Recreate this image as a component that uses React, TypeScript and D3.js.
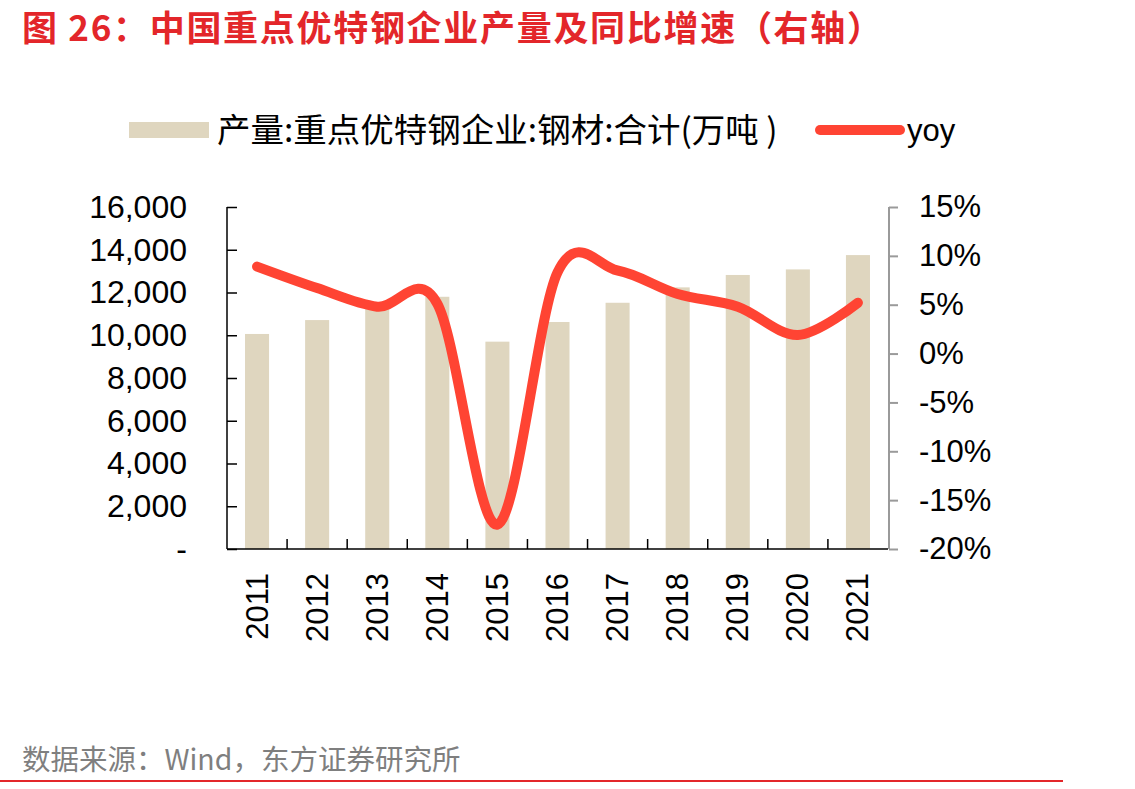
import React, { useEffect, useRef } from 'react';
import * as d3 from 'd3';

// 数据
const years = ['2011', '2012', '2013', '2014', '2015', '2016', '2017', '2018', '2019', '2020', '2021'];
const output = [10060, 10710, 11250, 11800, 9700, 10620, 11520, 12240, 12820, 13080, 13750];
const yoy = [8.9, 6.7, 4.8, 5.1, -17.5, 8.3, 8.5, 6.1, 4.8, 1.9, 5.2];
const leftTicks = [0, 2000, 4000, 6000, 8000, 10000, 12000, 14000, 16000];
const rightTicks = [-20, -15, -10, -5, 0, 5, 10, 15];

const LATIN = '"Liberation Sans", Arial, "Noto Sans CJK SC", sans-serif';
const CJK = '"Noto Sans CJK SC", "Liberation Sans", sans-serif';

const App = () => {
  const ref = useRef<SVGSVGElement | null>(null);

  useEffect(() => {
    if (!ref.current) return;
    const svg = d3.select(ref.current);
    svg.selectAll('*').remove();

    const left = 227, right = 888, top = 207, bottom = 549;

    const x = d3.scaleBand().domain(years).range([left, right]).paddingInner(0.6).paddingOuter(0.3);
    const yL = d3.scaleLinear().domain([0, 16000]).range([bottom, top]);
    const yR = d3.scaleLinear().domain([-20, 15]).range([bottom, top]);

    // title
    svg.append('text')
      .attr('x', 22).attr('y', 41)
      .attr('font-family', CJK).attr('font-weight', 700)
      .attr('font-size', 35).attr('fill', '#E3262A')
      .attr('textLength', 860).attr('lengthAdjust', 'spacing')
      .text('图 26：中国重点优特钢企业产量及同比增速（右轴）');

    // legend
    svg.append('rect').attr('x', 129).attr('y', 122).attr('width', 80).attr('height', 16).attr('fill', '#DFD6BF');
    svg.append('text')
      .attr('x', 217).attr('y', 142)
      .attr('font-family', CJK).attr('font-size', 33.5).attr('fill', '#000')
      .text('产量:重点优特钢企业:钢材:合计(万吨 )');
    svg.append('line')
      .attr('x1', 820).attr('x2', 900).attr('y1', 130).attr('y2', 130)
      .attr('stroke', '#FF4433').attr('stroke-width', 10).attr('stroke-linecap', 'round');
    svg.append('text')
      .attr('x', 907).attr('y', 141)
      .attr('font-family', LATIN).attr('font-size', 31).attr('fill', '#000')
      .text('yoy');

    // bars
    svg.append('g').selectAll('rect')
      .data(years)
      .enter().append('rect')
      .attr('x', d => x(d) as number)
      .attr('width', x.bandwidth())
      .attr('y', (d, i) => yL(output[i]))
      .attr('height', (d, i) => bottom - yL(output[i]))
      .attr('fill', '#DFD6BF');

    // left axis
    const gL = svg.append('g').attr('transform', `translate(${left},0)`)
      .call(d3.axisLeft(yL).tickValues(leftTicks).tickSize(-10).tickPadding(40)
        .tickFormat(d => (+d === 0 ? '-' : d3.format(',')(+d))));
    gL.select('.domain').attr('stroke', '#000').attr('stroke-width', 1.5)
      .attr('d', `M0,${top}V${bottom}`);
    gL.selectAll('.tick line').attr('stroke', '#000').attr('stroke-width', 1.5);
    gL.selectAll('.tick text').attr('font-family', LATIN).attr('font-size', 32).attr('fill', '#000');

    // right axis
    const gR = svg.append('g').attr('transform', `translate(${right + 1},0)`)
      .call(d3.axisRight(yR).tickValues(rightTicks).tickSize(9).tickPadding(21)
        .tickFormat(d => `${d}%`));
    gR.select('.domain').attr('stroke', '#9A9A9A').attr('stroke-width', 2)
      .attr('d', `M0,${top}V${bottom}`);
    gR.selectAll('.tick line').attr('stroke', '#9A9A9A').attr('stroke-width', 2);
    gR.selectAll('.tick text').attr('font-family', LATIN).attr('font-size', 31).attr('fill', '#000');

    // bottom axis with ticks between categories
    const gB = svg.append('g');
    gB.append('line').attr('x1', left).attr('x2', right).attr('y1', bottom).attr('y2', bottom)
      .attr('stroke', '#000').attr('stroke-width', 1.5);
    const step = x.step();
    gB.selectAll('line.sep')
      .data(years.slice(1))
      .enter().append('line')
      .attr('class', 'sep')
      .attr('x1', d => (x(d) as number) - step * 0.3)
      .attr('x2', d => (x(d) as number) - step * 0.3)
      .attr('y1', bottom).attr('y2', bottom - 10)
      .attr('stroke', '#000').attr('stroke-width', 1.5);
    gB.selectAll('text')
      .data(years)
      .enter().append('text')
      .attr('transform', d => `translate(${(x(d) as number) + x.bandwidth() / 2},573) rotate(-90)`)
      .attr('text-anchor', 'end')
      .attr('dominant-baseline', 'central')
      .attr('font-family', LATIN).attr('font-size', 31).attr('fill', '#000')
      .text(d => d);

    // yoy line
    const line = d3.line<number>()
      .x((d, i) => (x(years[i]) as number) + x.bandwidth() / 2)
      .y(d => yR(d))
      .curve(d3.curveCardinal.tension(0));
    svg.append('path')
      .datum(yoy)
      .attr('d', line)
      .attr('fill', 'none')
      .attr('stroke', '#FF4433')
      .attr('stroke-width', 10)
      .attr('stroke-linecap', 'round')
      .attr('stroke-linejoin', 'round');

    // source
    svg.append('text')
      .attr('x', 22).attr('y', 770)
      .attr('font-family', CJK).attr('font-size', 28.5).attr('fill', '#7F7F7F')
      .text('数据来源：Wind，东方证券研究所');
    svg.append('line').attr('x1', 0).attr('x2', 1063).attr('y1', 781).attr('y2', 781)
      .attr('stroke', '#E3262A').attr('stroke-width', 2);
  }, []);

  return (
    <svg
      ref={ref}
      width={1135}
      height={789}
      style={{ position: 'absolute', left: 0, top: 0, background: '#fff' }}
    />
  );
};

export default App;
